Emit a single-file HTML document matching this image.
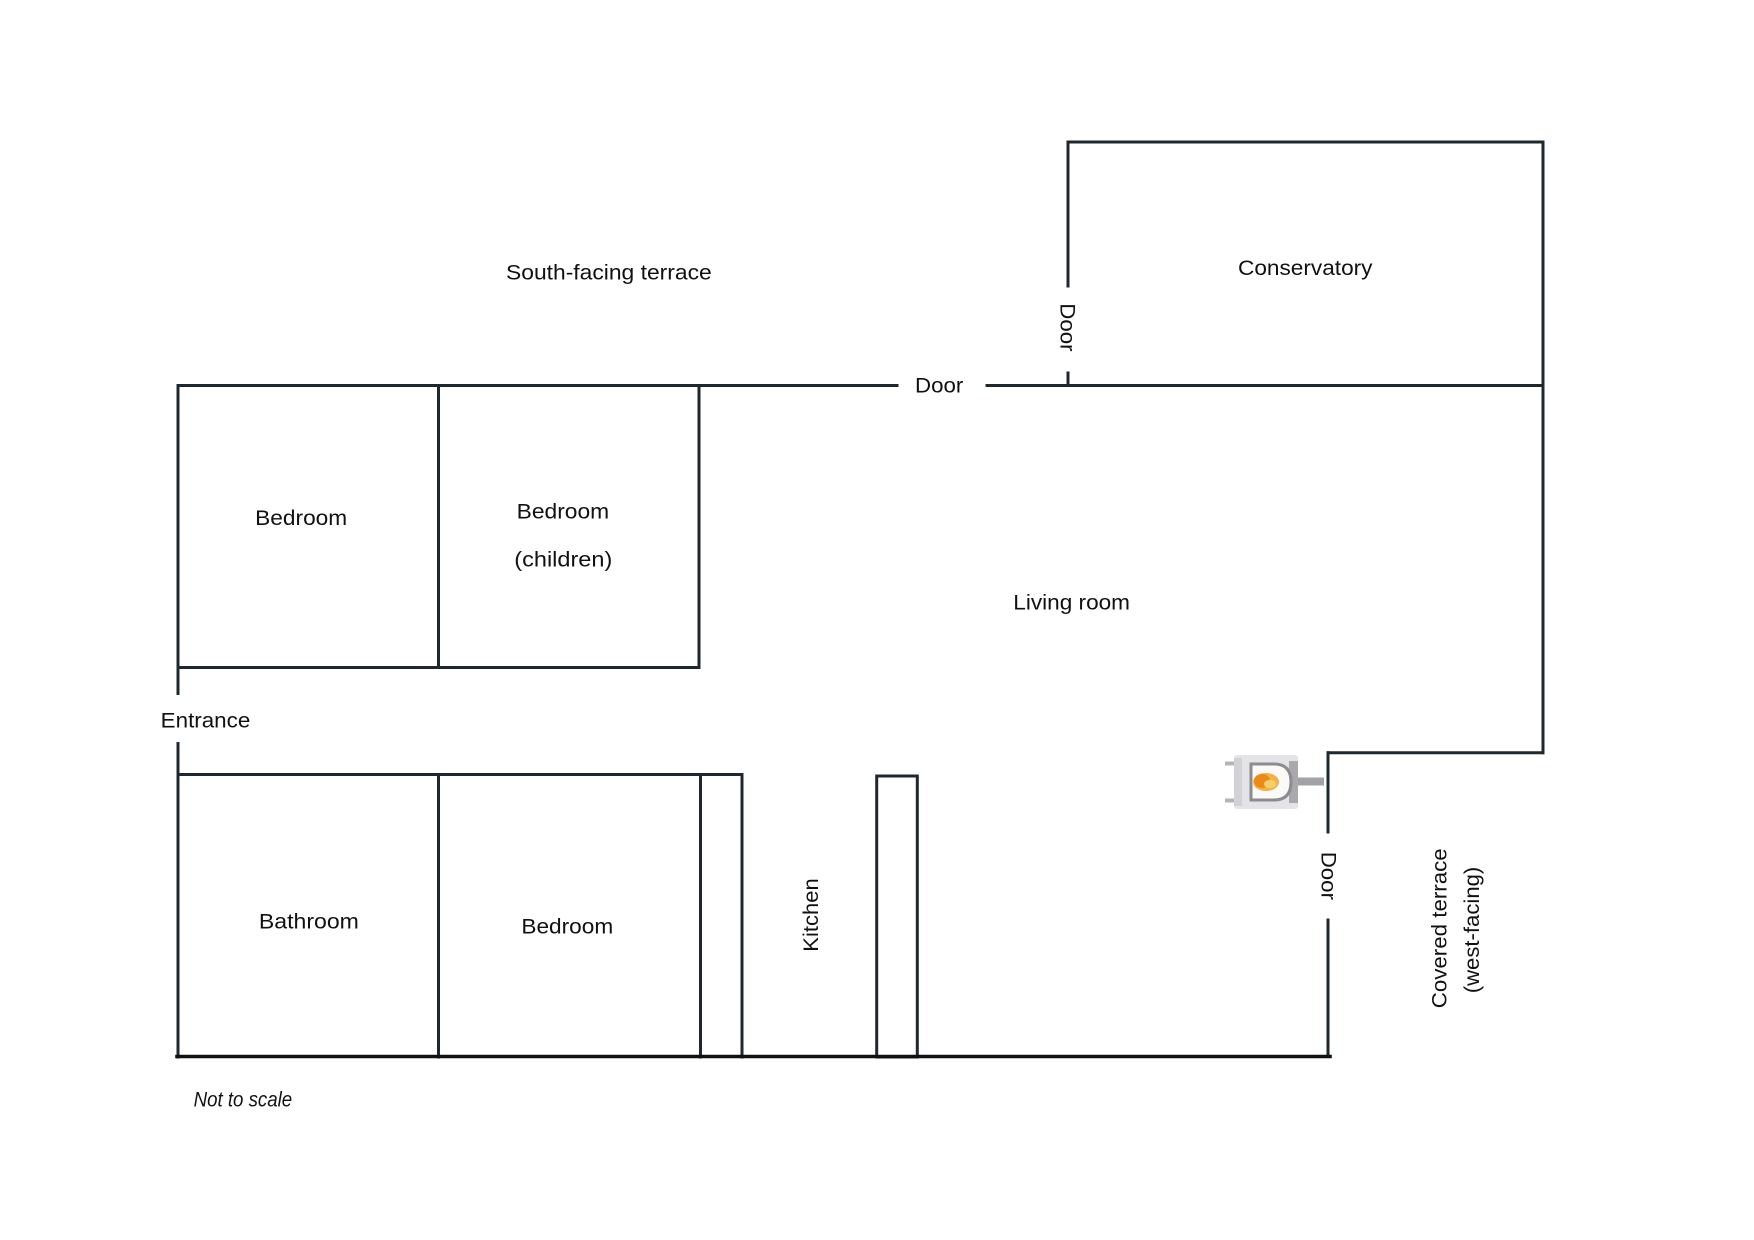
<!DOCTYPE html>
<html>
<head>
<meta charset="utf-8">
<style>
  html, body { margin:0; padding:0; background:#ffffff; }
  body { width:1754px; height:1240px; overflow:hidden; }
  svg { display:block; }
  text { font-family: "Liberation Sans", sans-serif; fill:#111; font-size:21px; }
</style>
</head>
<body>
<svg width="1754" height="1240" viewBox="0 0 1754 1240" xmlns="http://www.w3.org/2000/svg">
  <rect x="0" y="0" width="1754" height="1240" fill="#ffffff"/>

  <g stroke="#1f282c" stroke-width="3" fill="none" stroke-linecap="square">
    <!-- Top wall (with door gap) -->
    <line x1="178" y1="385.5" x2="897" y2="385.5"/>
    <line x1="987" y1="385.5" x2="1543" y2="385.5"/>
    <!-- Left wall with entrance gap -->
    <line x1="178" y1="385.5" x2="178" y2="693.5"/>
    <line x1="178" y1="743.5" x2="178" y2="1057"/>
    <!-- Upper bedrooms -->
    <line x1="438.5" y1="385.5" x2="438.5" y2="667.5"/>
    <line x1="699" y1="385.5" x2="699" y2="667.5"/>
    <line x1="178" y1="667.5" x2="699" y2="667.5"/>
    <!-- Lower rooms -->
    <line x1="178" y1="774.5" x2="742" y2="774.5"/>
    <line x1="438.5" y1="774.5" x2="438.5" y2="1057"/>
    <line x1="700.5" y1="774.5" x2="700.5" y2="1057"/>
    <line x1="742" y1="774.5" x2="742" y2="1057"/>
    <!-- Kitchen counter -->
    <rect x="876.7" y="776" width="40.6" height="281"/>
    <!-- Conservatory -->
    <line x1="1068" y1="142" x2="1543" y2="142"/>
    <line x1="1068" y1="142" x2="1068" y2="286"/>
    <line x1="1068" y1="373" x2="1068" y2="385.5"/>
    <line x1="1543" y1="142" x2="1543" y2="752.7"/>
    <!-- Step / covered terrace wall -->
    <line x1="1328" y1="752.7" x2="1543" y2="752.7"/>
    <line x1="1328" y1="752.7" x2="1328" y2="832"/>
    <line x1="1328" y1="920" x2="1328" y2="1056"/>
  </g>
  <!-- Bottom wall (slightly heavier) -->
  <line x1="177" y1="1056.5" x2="1330" y2="1056.5" stroke="#111" stroke-width="3.6" stroke-linecap="square"/>

  <!-- Stove -->
  <g>
    <rect x="1225" y="761.5" width="12" height="4" fill="#b4b4b8"/>
    <rect x="1225" y="798.5" width="12" height="4" fill="#b4b4b8"/>
    <rect x="1234" y="755" width="64" height="54" rx="3" fill="#e4e4e7"/>
    <rect x="1234" y="758" width="8" height="48" fill="#d2d2d6"/>
    <rect x="1289" y="761" width="9" height="42" fill="#a9a9ad"/>
    <path d="M1251 764 L1274 764 Q1291 764 1291 782 Q1291 800 1274 800 L1251 800 Z" fill="#fbfaf7" stroke="#8c8c90" stroke-width="3"/>
    <ellipse cx="1266" cy="782" rx="13" ry="9" fill="#f3b14a"/>
    <ellipse cx="1262" cy="781" rx="8" ry="7" fill="#e98a1c"/>
    <ellipse cx="1270" cy="784" rx="6" ry="4" fill="#f6cf6a"/>
    <rect x="1298" y="777.5" width="26" height="8" fill="#a2a2a6"/>
  </g>

  <!-- Horizontal labels -->
  <text x="506" y="279.3" textLength="205.7" lengthAdjust="spacingAndGlyphs">South-facing terrace</text>
  <text x="915" y="392.7" textLength="48.3" lengthAdjust="spacingAndGlyphs">Door</text>
  <text x="1238" y="275" textLength="134.5" lengthAdjust="spacingAndGlyphs">Conservatory</text>
  <text x="255.2" y="525" textLength="92" lengthAdjust="spacingAndGlyphs">Bedroom</text>
  <text x="516.6" y="518.3" textLength="92.6" lengthAdjust="spacingAndGlyphs">Bedroom</text>
  <text x="514.3" y="566.5" textLength="98" lengthAdjust="spacingAndGlyphs">(children)</text>
  <text x="1013.3" y="609.3" textLength="116.7" lengthAdjust="spacingAndGlyphs">Living room</text>
  <text x="160.7" y="727.7" textLength="89.6" lengthAdjust="spacingAndGlyphs">Entrance</text>
  <text x="258.9" y="928.3" textLength="100" lengthAdjust="spacingAndGlyphs">Bathroom</text>
  <text x="521.4" y="933.3" textLength="91.8" lengthAdjust="spacingAndGlyphs">Bedroom</text>
  <text x="193.6" y="1106.7" font-size="18" font-style="italic" textLength="98.6" lengthAdjust="spacingAndGlyphs">Not to scale</text>

  <!-- Vertical labels -->
  <text transform="translate(1060.5,303.3) rotate(90)" x="0" y="0" textLength="48.3" lengthAdjust="spacingAndGlyphs">Door</text>
  <text transform="translate(1321.5,851.7) rotate(90)" x="0" y="0" textLength="48.3" lengthAdjust="spacingAndGlyphs">Door</text>
  <text transform="translate(818,951.7) rotate(-90)" x="0" y="0" textLength="73.4" lengthAdjust="spacingAndGlyphs">Kitchen</text>
  <text transform="translate(1446.5,1008.3) rotate(-90)" x="0" y="0" textLength="160" lengthAdjust="spacingAndGlyphs">Covered terrace</text>
  <text transform="translate(1478.8,993.3) rotate(-90)" x="0" y="0" textLength="126.6" lengthAdjust="spacingAndGlyphs">(west-facing)</text>
</svg>
</body>
</html>
